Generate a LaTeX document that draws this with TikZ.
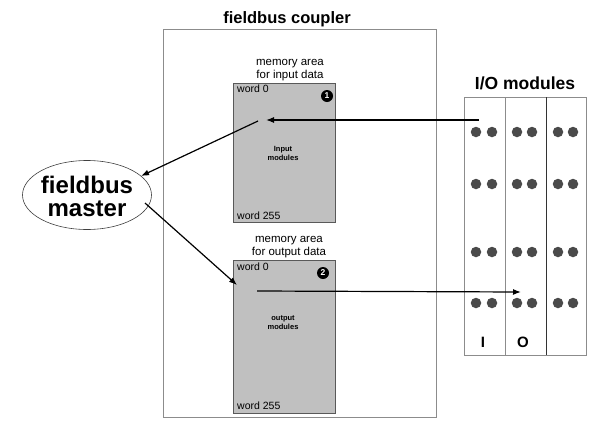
\documentclass[tikz,border=0pt]{standalone}
\usepackage{fontspec}
\setmainfont{Liberation Sans}
\usetikzlibrary{arrows.meta,shapes.geometric}
\definecolor{boxgray}{HTML}{C0C0C0}
\definecolor{edgegray}{HTML}{8C8C8C}
\definecolor{dotgray}{HTML}{4A4A4A}
\tikzset{
  membox/.style={draw=black!65, fill=boxgray, line width=0.8pt, anchor=north west, inner sep=0pt},
  flow/.style={line width=1.2pt, -{Latex[length=8pt,width=6pt]}},
  num/.style={circle, fill=black, text=white, inner sep=0pt, minimum size=12pt, font=\fontsize{8.5}{9}\selectfont\bfseries},
  iodot/.style={circle, fill=dotgray, inner sep=0pt, minimum size=10.5pt},
  small/.style={font=\fontsize{10.5}{11}\selectfont, inner sep=0pt},
  mid/.style={font=\fontsize{11.5}{12.5}\selectfont, align=center, inner sep=0pt},
  tiny/.style={font=\fontsize{7.5}{9}\selectfont\bfseries, align=center, inner sep=0pt},
  title/.style={font=\fontsize{16.5}{18}\selectfont\bfseries, inner sep=0pt}
}
\begin{document}
\begin{tikzpicture}[x=1pt,y=-1pt]
\useasboundingbox (0,0) rectangle (594,426);
% coupler
\node[draw=edgegray, line width=0.8pt, anchor=north west, minimum width=273pt, minimum height=388pt, inner sep=0pt] (coupler) at (163,29) {};
\node[title] (ctitle) at (287,19) {fieldbus coupler};
% input memory
\node[mid] (inlabel) at (290,70) {memory area\\for input data};
\node[membox, minimum width=102pt, minimum height=139pt] (inbox) at (233,83) {};
\node[small, anchor=north west] (inw0) at (237,85) {word 0};
\node[num] (n1) at (327,96) {1};
\node[tiny] (intext) at (283,153) {Input\\modules};
\node[small, anchor=south west] (inw255) at (237,220) {word 255};
% output memory
\node[mid] (outlabel) at (289,247) {memory area\\for output data};
\node[membox, minimum width=102pt, minimum height=153pt] (outbox) at (233,260) {};
\node[small, anchor=north west] (outw0) at (237,263) {word 0};
\node[num] (n2) at (323,273) {2};
\node[tiny] (outtext) at (283,323) {output\\modules};
\node[small, anchor=south west] (outw255) at (237,410) {word 255};
% fieldbus master
\node[draw=black!75, line width=0.6pt, ellipse, minimum width=129pt, minimum height=69pt, inner sep=0pt] (master) at (87,195) {};
\node[font=\fontsize{24}{23}\selectfont\bfseries, align=center, inner sep=0pt] (mtext) at (87,196) {fieldbus\\master};
% I/O modules
\node[font=\fontsize{17.5}{18}\selectfont\bfseries, inner sep=0pt] (iotitle) at (525,83) {I/O modules};
\node[draw=edgegray, line width=0.9pt, anchor=north west, minimum width=122pt, minimum height=258pt, inner sep=0pt] (iobox) at (464,97) {};
\coordinate (s1t) at (505,97); \coordinate (s1b) at (505,355);
\coordinate (s2t) at (546,97); \coordinate (s2b) at (546,355);
\draw[edgegray, line width=0.9pt] (s1t) -- (s1b);
\draw[black!80, line width=0.9pt] (s2t) -- (s2b);
\foreach \y [count=\r] in {132,184,252,303}{
  \foreach \x [count=\c] in {476,492,517,532,558,573}{
    \node[iodot] (d\r-\c) at (\x,\y) {};
  }
}
\node[font=\fontsize{15}{16}\selectfont\bfseries, inner sep=0pt] (lI) at (483,342) {I};
\node[font=\fontsize{15}{16}\selectfont\bfseries, inner sep=0pt] (lO) at (523,342) {O};
% arrows
\coordinate (a1s) at (479,120); \coordinate (a1e) at (266,120);
\draw[flow] (a1s) -- (a1e);
\coordinate (a2s) at (258,121); \coordinate (a2e) at (141,176);
\draw[flow] (a2s) -- (a2e);
\coordinate (a3s) at (145,203); \coordinate (a3e) at (237,285);
\draw[flow] (a3s) -- (a3e);
\coordinate (a4s) at (257,291); \coordinate (a4e) at (521,292);
\draw[flow] (a4s) -- (a4e);
\end{tikzpicture}
\end{document}
